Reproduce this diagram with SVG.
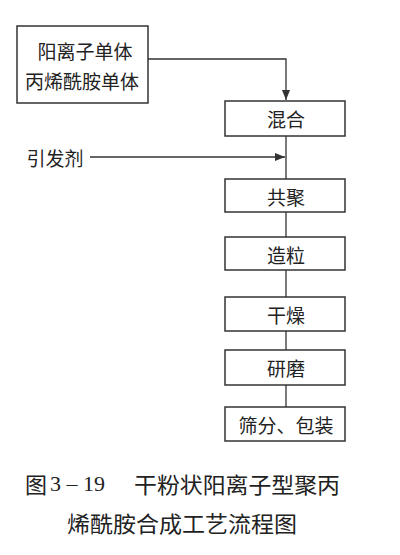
<svg xmlns="http://www.w3.org/2000/svg" width="400" height="555" viewBox="0 0 400 555">
<defs>
<marker id="arr" viewBox="0 0 10 8" refX="10" refY="4" markerWidth="10" markerHeight="8" markerUnits="userSpaceOnUse" orient="auto">
<path d="M0,0 L10,4 L0,8 Z" fill="#333"/>
</marker>
<style>
.box{fill:#fff;stroke:#333;stroke-width:1.5}
.ln{fill:none;stroke:#333;stroke-width:1.3}
.t{font-family:"Noto Sans CJK SC","Liberation Serif",sans-serif;font-size:19px;fill:#222;text-anchor:middle;dominant-baseline:central}
.cap{font-family:"Noto Sans CJK SC","Liberation Serif",sans-serif;font-size:22px;fill:#222;dominant-baseline:central}
</style>
</defs>
<rect width="400" height="555" fill="#fff"/>
<g id="connectors">
<path class="ln" d="M148,59 H286 V100" marker-end="url(#arr)"/>
<path class="ln" d="M90,157 H285" marker-end="url(#arr)"/>
<path class="ln" d="M286,136 V179"/>
<path class="ln" d="M286,212 V237"/>
<path class="ln" d="M286,270 V297"/>
<path class="ln" d="M286,331 V350"/>
<path class="ln" d="M286,385 V407"/>
</g>
<g id="monomers">
<rect class="box" x="17" y="26" width="131" height="77"/>
<text class="t" x="85" y="50">阳离子单体</text>
<text class="t" x="82" y="80">丙烯酰胺单体</text>
</g>
<g id="initiator">
<text class="t" x="55" y="157">引发剂</text>
</g>
<g id="mix">
<rect class="box" x="225" y="101" width="120" height="35"/>
<text class="t" x="286" y="118">混合</text>
</g>
<g id="copolymer">
<rect class="box" x="225" y="179" width="120" height="33"/>
<text class="t" x="286" y="196">共聚</text>
</g>
<g id="granulate">
<rect class="box" x="225" y="237" width="120" height="33"/>
<text class="t" x="286" y="254">造粒</text>
</g>
<g id="dry">
<rect class="box" x="225" y="297" width="120" height="34"/>
<text class="t" x="286" y="314">干燥</text>
</g>
<g id="grind">
<rect class="box" x="225" y="350" width="120" height="35"/>
<text class="t" x="286" y="367">研磨</text>
</g>
<g id="sieve">
<rect class="box" x="225" y="407" width="120" height="34"/>
<text class="t" x="286" y="424">筛分、包装</text>
</g>
<g id="caption">
<text class="cap" x="25" y="483">图<tspan font-family="Liberation Serif" dx="3">3 – 19</tspan></text>
<text class="cap" x="134" y="483" textLength="206" lengthAdjust="spacingAndGlyphs">干粉状阳离子型聚丙</text>
<text class="cap" x="67" y="522" textLength="230" lengthAdjust="spacingAndGlyphs">烯酰胺合成工艺流程图</text>
</g>
</svg>
